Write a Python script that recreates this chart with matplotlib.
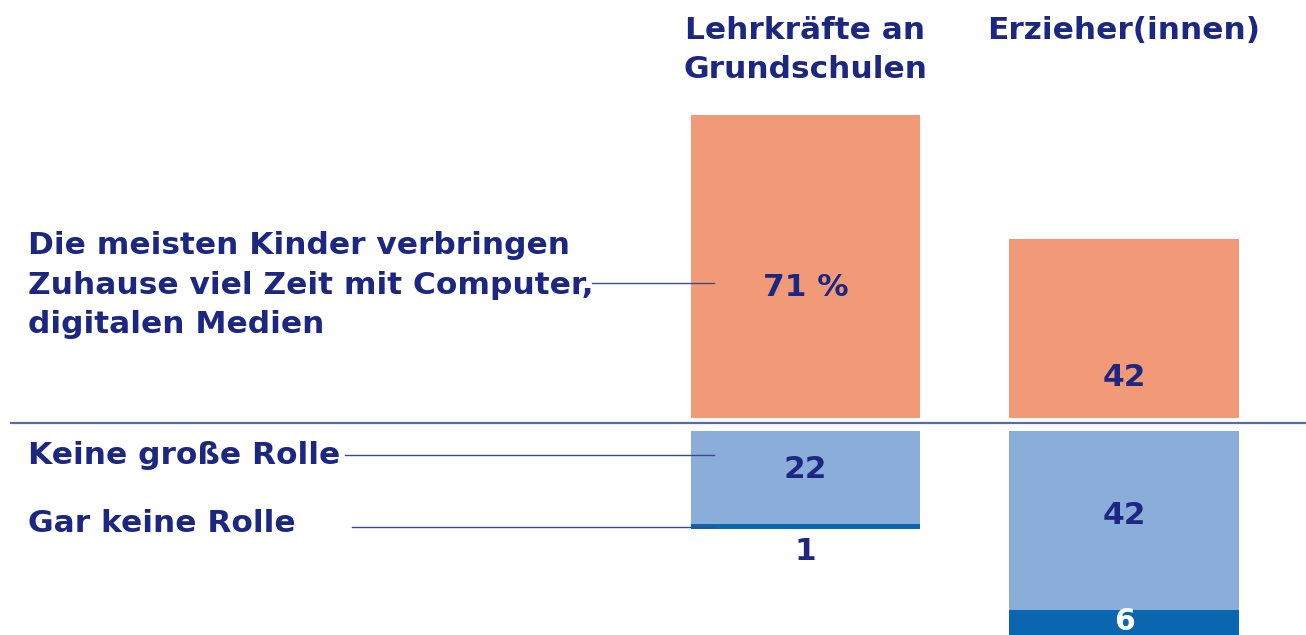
import matplotlib.pyplot as plt

# ------------------------------------------------- Daten ------------------------------------------------- #
gruppen = ["Lehrkräfte an\nGrundschulen", "Erzieher(innen)"]
viel_zeit = [71, 42]          # Kinder verbringen viel Zeit mit Computer / digitalen Medien
keine_grosse = [22, 42]       # Keine große Rolle
gar_keine = [1, 6]            # Gar keine Rolle
labels_viel = ["71 %", "42"]

kategorien = ["Die meisten Kinder verbringen\nZuhause viel Zeit mit Computer,\ndigitalen Medien",
              "Keine große Rolle", "Gar keine Rolle"]

# ------------------------------------------------- Stil -------------------------------------------------- #
W, H = 1306, 635
orange = "#f29a78"
hellblau = "#8aaed9"
dunkelblau = "#0b66b0"
navy = "#1c2782"
linie = "#5a6aa3"
schrift = "DejaVu Sans"
fs = 22.5


def px(x, y):
    # Pixel (von oben links) -> Figurkoordinaten
    return x / W, 1 - y / H


fig = plt.figure(figsize=(W / 100, H / 100), dpi=100)
ax = fig.add_axes([0, 0, 1, 1])
ax.axis("off")

# Skala: 1 Prozentpunkt ~ 4.27 px, Kategorienabstand ~ 318.5 px
sy = 4.27
sx = 318.5
ax.set_ylim(-(H - 422.5) / sy, 422.5 / sy)
ax.set_xlim(-805.5 / sx, 1 + (W - 1124) / sx)

pos = [0, 1]
breite = 0.72
lueke_oben = 4.5 / sy
lueke_unten = 8 / sy

ax.bar(pos, viel_zeit, width=breite, bottom=lueke_oben, color=orange)
ax.bar(pos, [-v for v in keine_grosse], width=breite, bottom=-lueke_unten, color=hellblau)
ax.bar(pos, [-v for v in gar_keine], width=breite,
       bottom=[-lueke_unten - v for v in keine_grosse], color=dunkelblau)

# Grundlinie
ax.plot([-805.5 / sx + 11 / sx, 1 + (W - 1124) / sx], [0, 0], color=linie, lw=1.6)

# Spaltenüberschriften
for p, g in zip(pos, gruppen):
    ax.text(p, (422.5 - 16) / sy, g, ha="center", va="top", fontsize=fs,
            fontweight="bold", color=navy, family=schrift, linespacing=1.42)

# Kategorienbeschriftungen links
fig.text(*px(28, 285), kategorien[0], ha="left", va="center", fontsize=fs,
         fontweight="bold", color=navy, family=schrift, linespacing=1.45)
fig.text(*px(28, 455), kategorien[1], ha="left", va="center", fontsize=fs,
         fontweight="bold", color=navy, family=schrift)
fig.text(*px(28, 524), kategorien[2], ha="left", va="center", fontsize=fs,
         fontweight="bold", color=navy, family=schrift)

# Verbindungslinien
for x0, y0 in [(592, 283), (345, 455), (352, 527)]:
    fig.add_artist(plt.Line2D([x0 / W, 714 / W], [1 - y0 / H, 1 - y0 / H],
                              color="#3d4a8c", lw=1.0))

# Werte
ax.text(pos[0], (422.5 - 287) / sy, labels_viel[0], ha="center", va="center", fontsize=fs,
        fontweight="bold", color=navy, family=schrift)
ax.text(pos[1], (422.5 - 378) / sy, labels_viel[1], ha="center", va="center", fontsize=fs,
        fontweight="bold", color=navy, family=schrift)
ax.text(pos[0], (422.5 - 470) / sy, str(keine_grosse[0]), ha="center", va="center", fontsize=fs,
        fontweight="bold", color=navy, family=schrift)
ax.text(pos[1], (422.5 - 515) / sy, str(keine_grosse[1]), ha="center", va="center", fontsize=fs,
        fontweight="bold", color=navy, family=schrift)
ax.text(pos[0], (422.5 - 551) / sy, str(gar_keine[0]), ha="center", va="center", fontsize=fs,
        fontweight="bold", color=navy, family=schrift)
ax.text(pos[1], (422.5 - 622) / sy, str(gar_keine[1]), ha="center", va="center", fontsize=fs - 1,
        fontweight="bold", color="white", family=schrift)

fig.savefig("out.png", dpi=100)
